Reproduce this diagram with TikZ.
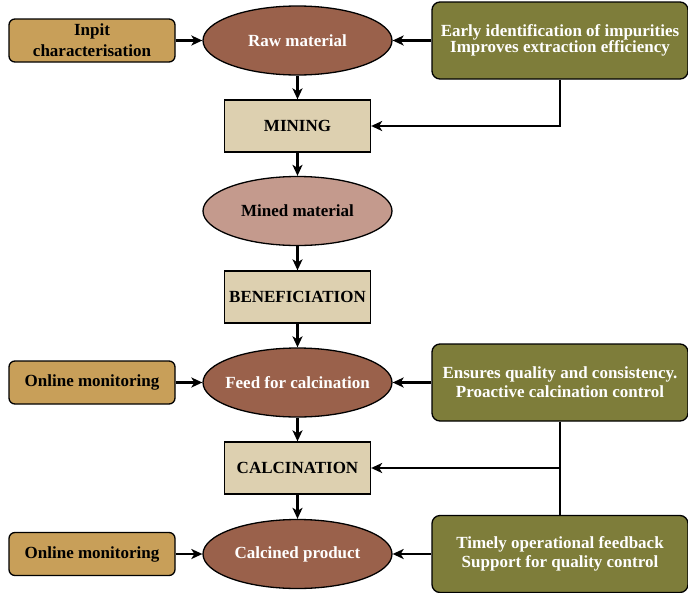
\documentclass[tikz,border=0pt]{standalone}
\usepackage{fontspec}
\setmainfont{Liberation Serif}
\usetikzlibrary{arrows.meta,shapes.geometric}
\definecolor{inputtan}{HTML}{C89F59}
\definecolor{streambrown}{HTML}{9A614B}
\definecolor{minedrose}{HTML}{C49A8D}
\definecolor{stepbeige}{HTML}{DDD0B0}
\definecolor{noteolive}{HTML}{7E7D3A}
\tikzset{
  flownode/.style = {align=center, inner sep=0pt, text centered,
    font=\bfseries\fontsize{17}{19}\selectfont, draw=black, line width=1.3pt},
  fl_ell/.style = {flownode, ellipse, fill=streambrown, text=white,
    inner xsep=-6pt, minimum width=189pt, minimum height=69pt},% flux de matiere
  fl_step/.style = {flownode, rectangle, fill=stepbeige,
    minimum width=146pt, minimum height=52pt},% etape du procede
  fl_in/.style = {flownode, rectangle, rounded corners=6pt, fill=inputtan,
    minimum width=166pt, minimum height=43pt},% mesure en entree
  fl_note/.style = {flownode, rectangle, rounded corners=8pt, fill=noteolive,
    text=white, minimum width=256pt, minimum height=77pt}% benefice
}

\begin{document}
\begin{tikzpicture}[x=1pt,y=-1pt,line width=2.1pt,
  >={Stealth[length=11pt,width=10pt,inset=3pt]}]
\useasboundingbox (0,0) rectangle (688,592);
% colonne centrale
\node [fl_ell] (raw) at (297.5,40.5) {Raw material};
\node [fl_step] (mining) at (297.5,126) {MINING};
\node [fl_ell, fill=minedrose, text=black] (mined) at (297.5,211) {Mined material};
\node [fl_step] (benef) at (297.5,297) {BENEFICIATION};
\node [fl_ell] (feed) at (297.5,382.5) {Feed for calcination};
\node [fl_step] (calc) at (297.5,468) {CALCINATION};
\node [fl_ell] (prod) at (297.5,554) {Calcined product};
% entrees a gauche
\node [fl_in, font=\bfseries\fontsize{17}{21}\selectfont] (inpit) at (92,40.5) {Inpit\\characterisation};
\node [fl_in] (mon1) at (92,382.5) {Online monitoring};
\node [fl_in] (mon2) at (92,554) {Online monitoring};
% notes a droite
\node [fl_note, font=\bfseries\fontsize{17}{16}\selectfont] (early) at (560,40.5)
  {Early identification of impurities\\Improves extraction efficiency};
\node [fl_note] (ensure) at (560,382.5)
  {Ensures quality and consistency.\\Proactive calcination control};
\node [fl_note] (timely) at (560,554)
  {Timely operational feedback\\Support for quality control};
\coordinate (jct) at (ensure.south |- calc);

\draw [->] (raw) -- (mining);
\draw [->] (mining) -- (mined);
\draw [->] (mined) -- (benef);
\draw [->] (benef) -- (feed);
\draw [->] (feed) -- (calc);
\draw [->] (calc) -- (prod);
\draw [->] (inpit) -- (raw);
\draw [->] (mon1) -- (feed);
\draw [->] (mon2) -- (prod);
\draw [->] (early) -- (raw);
\draw [->] (ensure) -- (feed);
\draw [->] (timely) -- (prod);
\draw [->] (early.south) |- (mining.east);
\draw (ensure.south) -- (timely.north);
\draw [->] (jct) -- (calc.east);
\end{tikzpicture}
\end{document}
